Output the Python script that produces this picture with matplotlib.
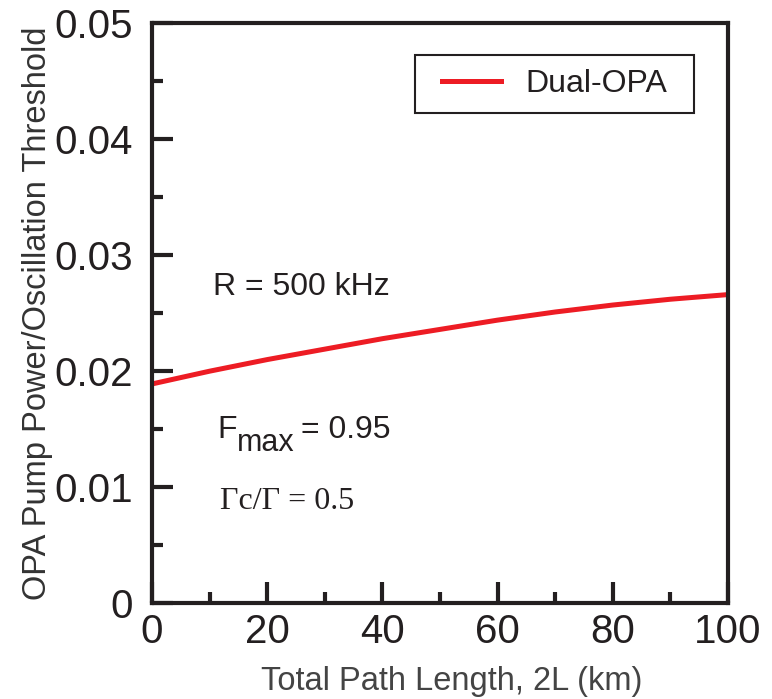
import matplotlib.pyplot as plt
from matplotlib.patches import Rectangle
from matplotlib.ticker import MultipleLocator

# curve
path_km = [0, 10, 20, 30, 40, 50, 60, 70, 80, 90, 100]
threshold = [0.0189, 0.0200, 0.0210, 0.0219, 0.0228, 0.0236, 0.0244, 0.0251, 0.0257, 0.0262, 0.0266]

plt.rcParams['font.family'] = ['Liberation Sans', 'DejaVu Sans']

fig = plt.figure(figsize=(7.72, 6.99), dpi=100)
ax = fig.add_axes([0.197, 0.137, 0.746, 0.83])

red = '#ed1c24'
dark = '#231f20'

ax.plot(path_km, threshold, color=red, linewidth=3.6, label='Dual-OPA')

ax.set_xlim(0, 100)
ax.set_ylim(0, 0.05)
ax.xaxis.set_major_locator(MultipleLocator(20))
ax.xaxis.set_minor_locator(MultipleLocator(10))
ax.yaxis.set_minor_locator(MultipleLocator(0.005))
ax.set_yticks([0, 0.01, 0.02, 0.03, 0.04, 0.05])
ax.set_yticklabels(['0', '0.01', '0.02', '0.03', '0.04', '0.05'])

ax.tick_params(which='both', direction='in', color=dark, width=3, labelsize=29,
               labelcolor=dark)
ax.tick_params(which='major', length=15)
ax.tick_params(axis='y', which='major', pad=14)
ax.tick_params(axis='x', which='major', pad=7)
ax.tick_params(which='minor', length=8)
for s in ax.spines.values():
    s.set_linewidth(3)
    s.set_color(dark)

ax.set_xlabel('Total Path Length, 2L (km)', fontsize=23.5, color='#444444', labelpad=11, x=0.52)
ax.set_ylabel('OPA Pump Power/Oscillation Threshold', fontsize=23.5, color='#333333', labelpad=1)

ax.text(10.5, 0.0266, 'R = 500 kHz', fontsize=23, color=dark)
f = ax.text(11.3, 0.0142, 'F', fontsize=23, color=dark)
sub = ax.annotate('max', xy=(1, 0), xycoords=f, xytext=(0.5, -9), textcoords='offset points',
                  fontsize=22, color=dark, va='bottom')
ax.annotate('= 0.95', xy=(1, 0), xycoords=(sub, f), xytext=(4, 0), textcoords='offset points',
            fontsize=23, color=dark, va='bottom')
ax.text(11.8, 0.0081, 'Γc/Γ = 0.5', fontsize=23, color=dark,
        family=['Liberation Serif', 'DejaVu Serif'])

leg = ax.legend(loc='upper right', fontsize=23, frameon=False,
                handlelength=1.85, borderpad=0.45, borderaxespad=0.9,
                handletextpad=0.78, bbox_to_anchor=(0.97, 0.995))
for t in leg.get_texts():
    t.set_color(dark)

# legend frame drawn by hand: wider side padding than the legend box allows
fig.canvas.draw()
bb = leg.get_window_extent().transformed(fig.transFigure.inverted())
padx = 12 / fig.bbox.width
fig.add_artist(Rectangle((bb.x0 - padx, bb.y0), bb.width + 2 * padx, bb.height,
                         transform=fig.transFigure, fill=False,
                         edgecolor=dark, linewidth=1.5))

fig.savefig('out.png', dpi=100)
plt.close(fig)
